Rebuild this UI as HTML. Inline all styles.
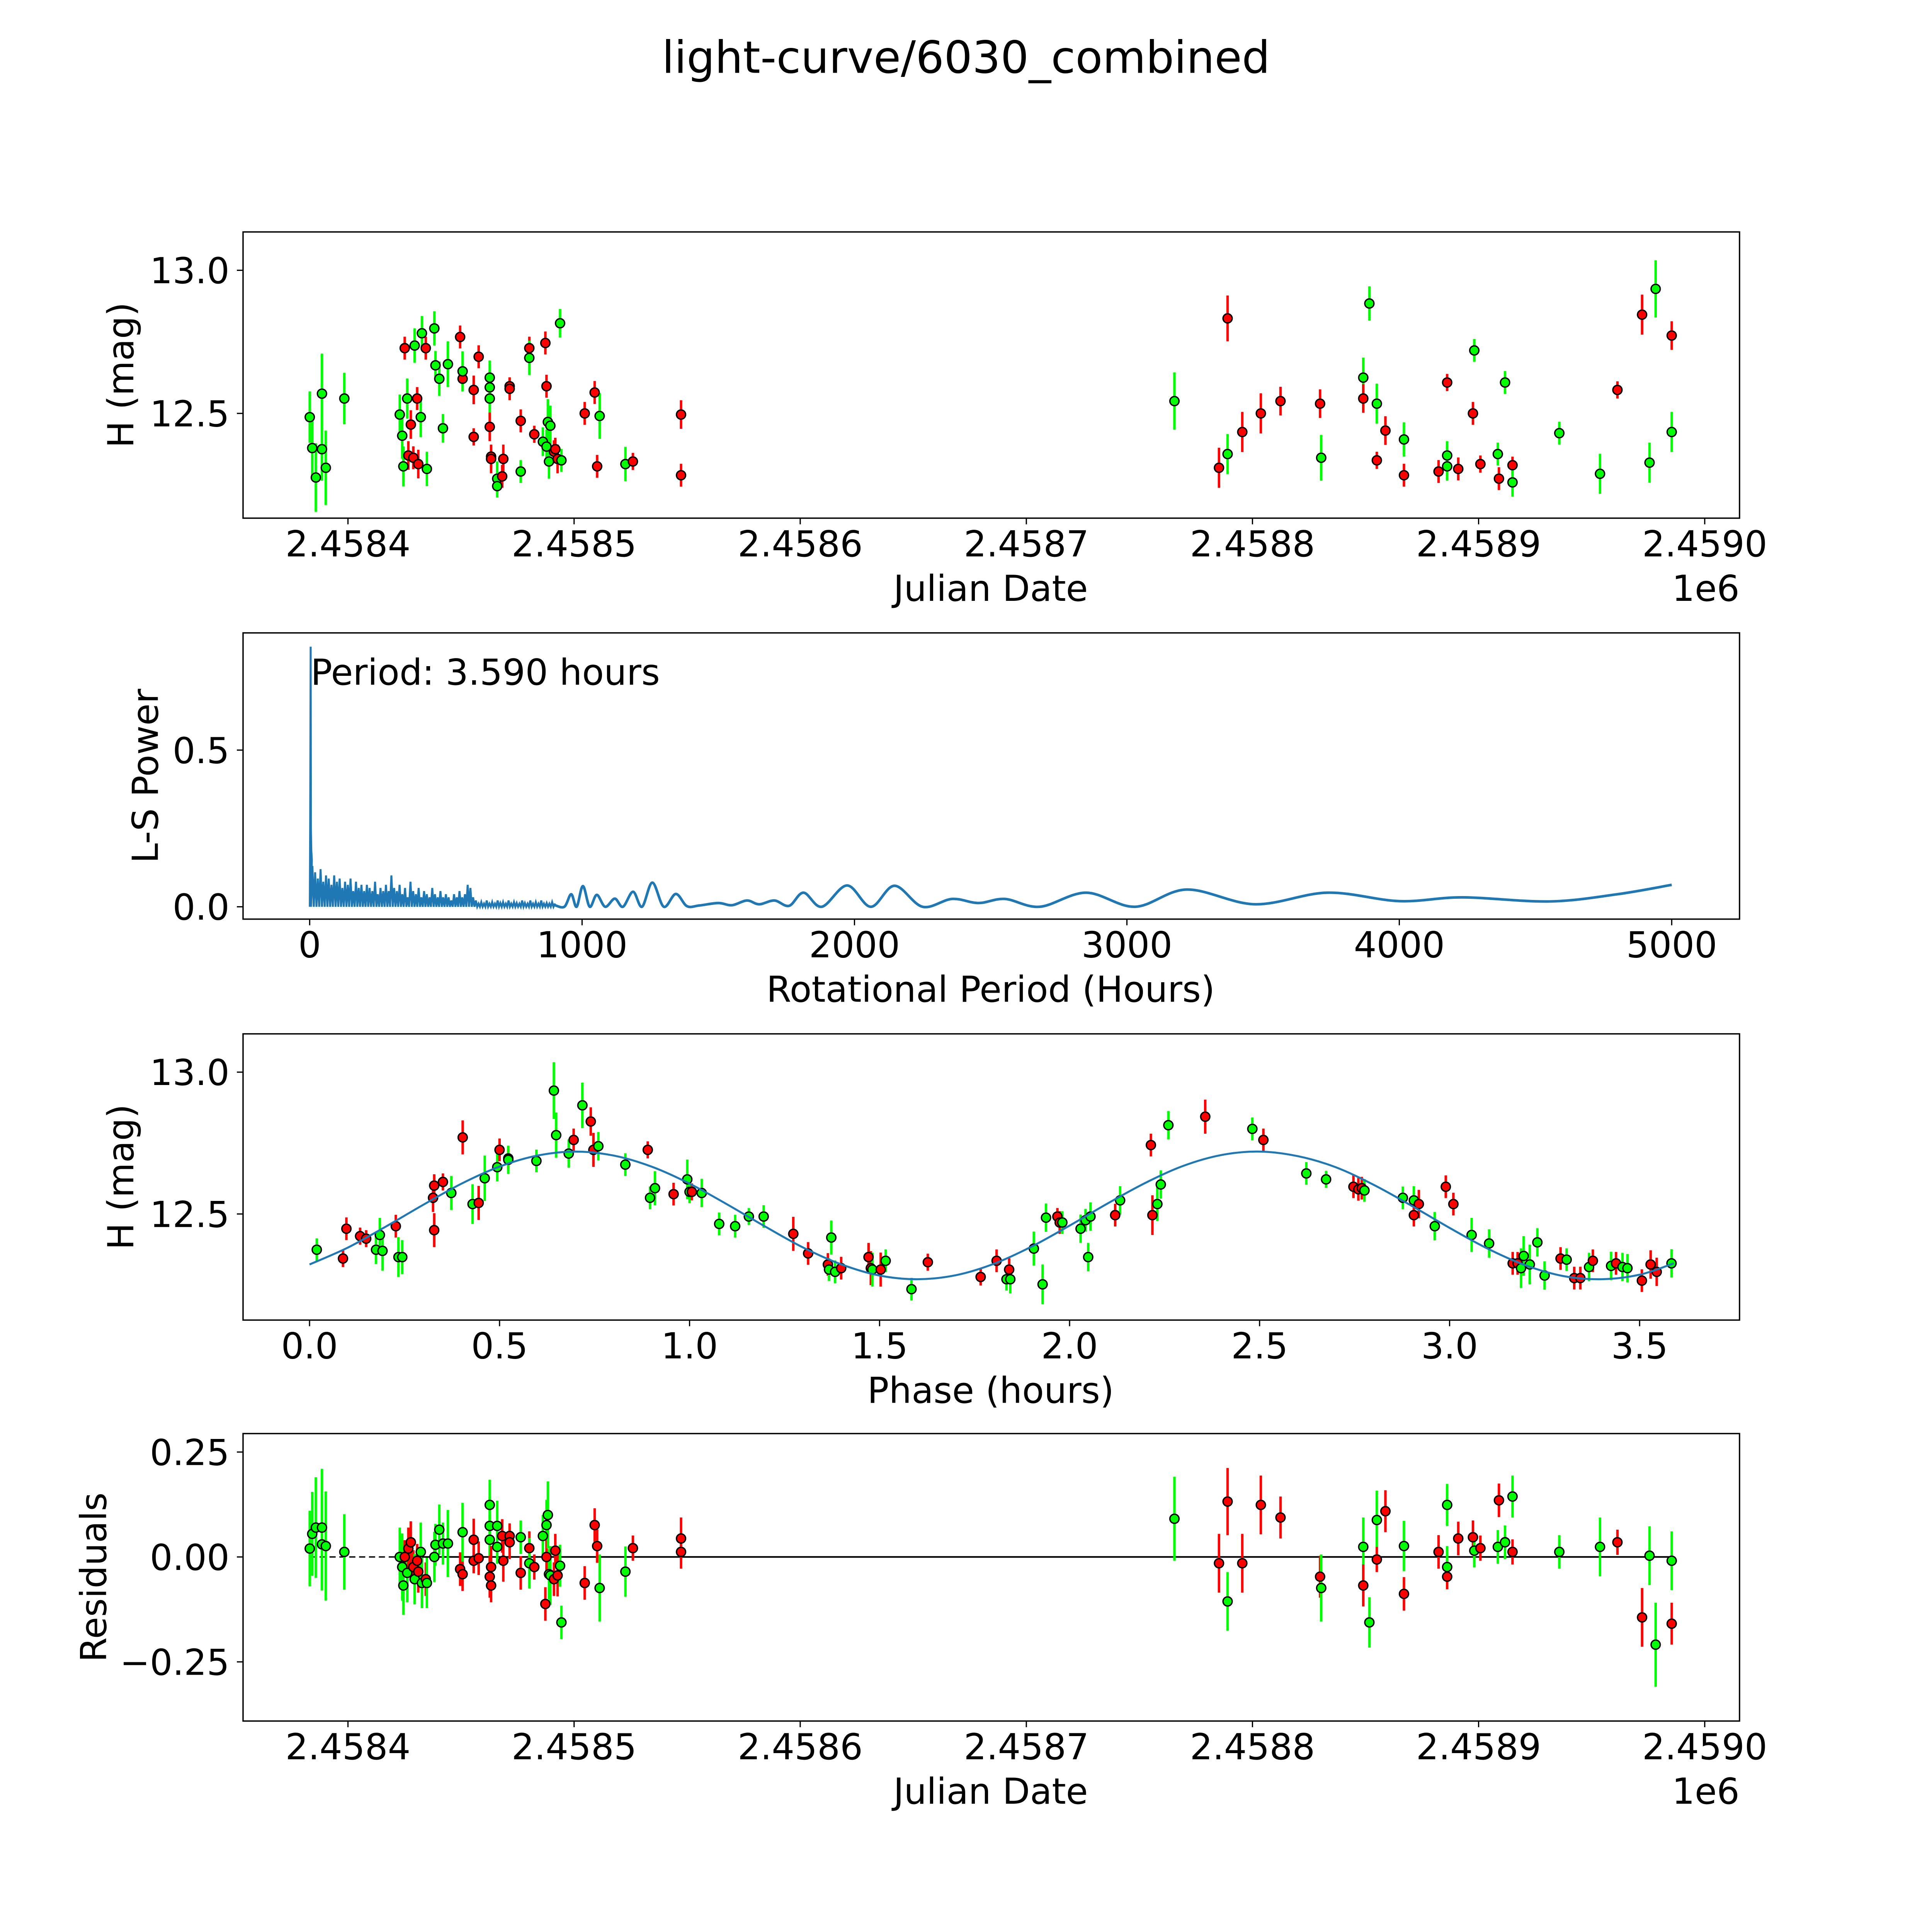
<!DOCTYPE html>
<html><head><meta charset="utf-8"><style>
html,body{margin:0;padding:0;background:#fff;overflow:hidden;width:100%;height:100%;}
svg{display:block;font-family:"DejaVu Sans","Liberation Sans",sans-serif;width:100vw;height:100vh;}
</style></head><body>
<svg id="fig" xmlns="http://www.w3.org/2000/svg" viewBox="0 0 1566 1566" preserveAspectRatio="xMidYMid meet">
<rect x="0" y="0" width="1566" height="1566" fill="#fff"/>
<text x="783" y="59" font-size="36" text-anchor="middle">light-curve/6030_combined</text>
</svg>
<script>
// ---- data: light curve (days since JD 2458400, mag, err, color r/g) ----
const lcDays = [-16.9,-15.8,-14.2,-11.5,-11.5,-9.8,-1.6,22.9,24.0,24.5,25.1,26.2,26.7,27.8,28.9,29.5,30.6,31.1,32.2,32.7,34.4,34.9,38.2,38.7,40.4,42.0,44.2,49.6,50.7,50.7,55.6,57.8,55.6,62.7,62.7,62.7,62.7,63.3,63.3,66.0,66.0,68.2,68.7,71.5,71.5,76.4,76.4,80.2,80.2,82.4,86.2,87.3,87.8,87.8,88.4,88.9,89.5,91.1,91.7,92.7,94.4,93.8,104.7,109.1,111.3,110.2,122.7,126.0,147.3,147.3,
365.5,385.2,389.0,389.0,395.5,403.7,412.4,429.9,430.4,449.0,449.0,451.7,455.0,455.0,458.8,467.0,467.0,482.3,486.1,486.1,486.1,491.0,497.5,498.1,500.8,508.5,509.0,511.7,515.0,515.0,535.7,553.7,561.4,572.3,575.6,578.3,585.4,585.4];
const lcMag = [12.487,12.379,12.276,12.569,12.375,12.310,12.552,12.496,12.422,12.315,12.728,12.552,12.353,12.461,12.345,12.737,12.552,12.323,12.487,12.780,12.728,12.306,12.797,12.668,12.621,12.448,12.672,12.767,12.621,12.647,12.418,12.698,12.582,12.625,12.591,12.552,12.453,12.349,12.341,12.272,12.246,12.280,12.341,12.595,12.586,12.297,12.474,12.728,12.694,12.427,12.401,12.746,12.384,12.595,12.470,12.332,12.457,12.366,12.375,12.341,12.336,12.815,12.500,12.573,12.491,12.315,12.323,12.332,12.496,12.284,
12.543,12.310,12.832,12.358,12.435,12.500,12.543,12.534,12.345,12.625,12.552,12.884,12.534,12.336,12.440,12.409,12.284,12.297,12.353,12.315,12.608,12.306,12.500,12.720,12.323,12.358,12.272,12.608,12.319,12.259,12.431,12.289,12.582,12.845,12.328,12.935,12.772,12.435];
const lcErr = [0.09,0.10,0.12,0.14,0.11,0.13,0.09,0.07,0.08,0.07,0.04,0.07,0.05,0.05,0.04,0.06,0.04,0.05,0.07,0.06,0.04,0.06,0.06,0.05,0.06,0.05,0.08,0.04,0.04,0.07,0.03,0.04,0.05,0.06,0.06,0.07,0.05,0.04,0.05,0.06,0.04,0.04,0.05,0.03,0.04,0.04,0.04,0.04,0.06,0.03,0.05,0.04,0.06,0.04,0.08,0.06,0.07,0.04,0.04,0.05,0.04,0.05,0.04,0.04,0.08,0.04,0.06,0.03,0.05,0.04,
0.10,0.07,0.08,0.07,0.07,0.07,0.05,0.05,0.08,0.07,0.05,0.06,0.07,0.03,0.05,0.06,0.04,0.04,0.05,0.05,0.03,0.04,0.04,0.04,0.03,0.04,0.04,0.04,0.03,0.05,0.04,0.07,0.03,0.07,0.07,0.10,0.05,0.07];
const lcColor = ['g','g','g','g','g','g','g','g','g','g','r','g','r','r','r','g','r','r','g','g','r','g','g','g','g','g','g','r','r','g','r','r','r','g','g','g','r','r','r','g','g','r','r','r','r','g','r','r','g','r','g','r','g','r','g','g','g','r','r','r','g','g','r','r','g','r','g','r','r','r',
'g','r','r','g','r','r','r','r','g','g','r','g','g','r','r','g','r','r','g','g','r','r','r','g','r','g','r','g','r','g','g','g','r','r','g','g','r','g'];
const lcResid = [0.02,0.055,0.07,0.07,0.03,0.026,0.012,0.0,-0.024,-0.068,0.0,-0.038,0.02,0.035,-0.024,-0.053,-0.009,-0.035,0.012,-0.062,-0.053,-0.062,0.0,0.029,0.065,0.032,0.032,-0.029,-0.041,0.059,-0.009,-0.003,0.041,0.041,0.124,0.074,-0.047,-0.068,-0.024,0.074,0.024,0.05,-0.009,0.05,0.035,0.047,-0.038,0.021,-0.015,-0.024,0.05,-0.112,0.076,0.0,0.1,-0.041,-0.044,-0.053,0.015,-0.044,-0.156,-0.021,-0.062,0.076,-0.074,0.026,-0.035,0.021,0.044,0.012,
0.091,-0.015,0.132,-0.106,-0.015,0.124,0.094,-0.047,-0.074,0.024,-0.068,-0.156,0.088,-0.006,0.109,0.026,-0.088,0.012,0.124,-0.024,-0.047,0.044,0.047,0.015,0.021,0.024,0.135,0.035,0.012,0.144,0.012,0.024,0.035,-0.144,0.003,-0.209,-0.159,-0.009];
// ---- periodogram ----
const pgSpikePeriod = [0.5, 2.0, 3.59, 4.5, 6.0, 8.0];
const pgSpikePower = [0.0, 0.28, 0.83, 0.25, 0.18, 0.15];
const pgNoisePeriod0 = 10, pgNoiseStep = 10;
const pgNoisePower = [0.13,0.11,0.09,0.12,0.08,0.10,0.09,0.07,0.10,0.08,0.09,0.06,0.08,0.07,0.09,0.05,0.08,0.06,0.07,0.05,0.07,0.06,0.05,0.08,0.04,0.06,0.05,0.07,0.05,0.10,0.06,0.05,0.07,0.04,0.06,0.03,0.08,0.05,0.04,0.06,0.03,0.05,0.04,0.03,0.06,0.04,0.03,0.05,0.03,0.04,0.03,0.02,0.04,0.03,0.05,0.03,0.04,0.07,0.06,0.03,
0.02,0.01,0.015,0.01,0.02,0.01,0.015,0.01,0.02,0.012,0.015,0.01,0.02,0.01,0.015,0.012,0.01,0.02,0.012,0.01,0.02,0.01,0.015,0.01,0.02,0.01,0.012,0.01,0.015,0.01];
const pgSmoothPeriod = [900,935,960,980,1003,1028,1054,1085,1120,1150,1187,1220,1258,1300,1344,1385,1430,1500,1550,1605,1650,1706,1760,1813,1880,1973,2060,2147,2250,2358,2455,2552,2680,2850,3030,3220,3470,3736,4000,4231,4550,4800,5000];
const pgSmoothPower = [0.005,0.0,0.04,0.0,0.066,0.0,0.038,0.0,0.026,0.0,0.048,0.0,0.077,0.0,0.041,0.002,0.004,0.012,0.005,0.02,0.008,0.02,0.003,0.045,0.0,0.068,0.0,0.067,0.0,0.025,0.012,0.025,0.0,0.045,0.0,0.055,0.008,0.045,0.018,0.03,0.017,0.04,0.07];
// ---- phased light curve ----
const phPhase = [0.019,0.088,0.097,0.133,0.149,0.175,0.185,0.192,0.227,0.234,0.244,0.325,0.328,0.328,0.351,0.373,0.403,0.429,0.445,0.461,0.494,0.500,0.523,0.523,0.597,0.643,0.649,0.682,0.695,0.718,0.740,0.747,0.760,0.831,0.890,0.896,0.909,0.958,0.994,1.000,1.006,1.032,1.078,1.120,1.156,1.195,1.273,1.312,1.364,1.367,1.373,1.383,1.399,1.471,1.477,1.481,1.503,1.516,1.584,1.627,1.766,1.808,1.841,1.834,1.844,1.906,1.929,1.938,1.968,1.974,1.981,2.029,2.042,2.049,2.055,2.120,2.133,2.218,2.214,2.231,2.240,2.260,2.357,2.481,2.510,2.623,2.675,2.747,2.760,2.769,2.776,2.877,2.906,2.906,2.919,2.961,2.990,3.010,3.058,3.104,3.166,3.179,3.188,3.195,3.211,3.231,3.250,3.292,3.308,3.328,3.344,3.367,3.377,3.425,3.438,3.455,3.468,3.506,3.529,3.545,3.584];
const phMag = [12.374,12.343,12.448,12.422,12.413,12.374,12.426,12.370,12.457,12.348,12.348,12.557,12.443,12.600,12.613,12.574,12.770,12.535,12.539,12.626,12.665,12.726,12.696,12.691,12.687,12.935,12.778,12.713,12.761,12.883,12.826,12.726,12.739,12.674,12.726,12.557,12.591,12.570,12.622,12.578,12.578,12.574,12.465,12.457,12.491,12.491,12.430,12.361,12.322,12.304,12.417,12.296,12.309,12.348,12.309,12.304,12.304,12.335,12.235,12.330,12.278,12.335,12.304,12.270,12.270,12.378,12.252,12.487,12.491,12.470,12.470,12.448,12.478,12.348,12.491,12.496,12.548,12.496,12.743,12.535,12.604,12.813,12.843,12.800,12.761,12.643,12.622,12.596,12.587,12.591,12.583,12.557,12.548,12.496,12.535,12.457,12.596,12.535,12.426,12.396,12.326,12.326,12.309,12.352,12.322,12.400,12.283,12.343,12.339,12.274,12.274,12.313,12.335,12.317,12.326,12.313,12.309,12.265,12.322,12.296,12.326];
const phErr = [0.04,0.03,0.04,0.03,0.03,0.05,0.06,0.07,0.04,0.07,0.06,0.05,0.06,0.04,0.03,0.06,0.06,0.07,0.06,0.08,0.05,0.04,0.04,0.05,0.04,0.10,0.08,0.05,0.04,0.08,0.05,0.06,0.05,0.04,0.03,0.04,0.06,0.04,0.07,0.04,0.03,0.05,0.04,0.04,0.03,0.04,0.06,0.04,0.04,0.04,0.06,0.04,0.04,0.05,0.06,0.06,0.06,0.04,0.04,0.03,0.03,0.04,0.04,0.04,0.05,0.06,0.07,0.05,0.03,0.04,0.04,0.05,0.04,0.05,0.05,0.04,0.05,0.07,0.04,0.06,0.05,0.05,0.06,0.04,0.04,0.04,0.03,0.04,0.04,0.04,0.04,0.04,0.05,0.04,0.05,0.05,0.04,0.04,0.06,0.05,0.04,0.04,0.07,0.07,0.07,0.05,0.05,0.04,0.04,0.04,0.04,0.05,0.04,0.05,0.04,0.05,0.05,0.04,0.05,0.05,0.05];
const phColor = ['g','r','r','r','r','g','g','g','r','g','g','r','r','r','r','g','r','g','r','g','g','r','r','g','g','g','g','g','r','g','r','r','g','g','r','g','g','r','g','g','r','g','g','g','g','g','r','r','r','g','g','g','r','r','r','g','r','g','g','r','r','r','r','g','g','g','g','g','r','r','g','g','g','g','g','r','g','r','r','g','g','g','r','g','r','g','g','r','r','r','g','g','g','r','r','g','r','r','g','g','r','r','g','g','g','g','g','r','g','r','r','g','r','g','r','g','g','r','r','r','g'];
const fitPhase = [0,0.1,0.2,0.3,0.4,0.5,0.6,0.7,0.8,0.9,1.0,1.1,1.2,1.3,1.4,1.5,1.6,1.7,1.8,1.9,2.0,2.1,2.2,2.3,2.4,2.5,2.6,2.7,2.8,2.9,3.0,3.1,3.2,3.3,3.4,3.5,3.59];
const fitMag = [12.322,12.381,12.455,12.533,12.607,12.667,12.706,12.720,12.706,12.667,12.607,12.533,12.455,12.381,12.322,12.283,12.270,12.284,12.324,12.385,12.459,12.537,12.610,12.670,12.708,12.720,12.704,12.665,12.603,12.529,12.451,12.378,12.319,12.281,12.270,12.286,12.326];
// ---- tick labels ----
const jdTicks = [0,100,200,300,400,500,600];
const jdTickLabels = ['2.4584','2.4585','2.4586','2.4587','2.4588','2.4589','2.4590'];
const magTicks = [12.5,13.0];
const magTickLabels = ['12.5','13.0'];
const pgXTicks = [0,1000,2000,3000,4000,5000];
const pgXTickLabels = ['0','1000','2000','3000','4000','5000'];
const pgYTicks = [0,0.5];
const pgYTickLabels = ['0.0','0.5'];
const phXTicks = [0,0.5,1,1.5,2,2.5,3,3.5];
const phXTickLabels = ['0.0','0.5','1.0','1.5','2.0','2.5','3.0','3.5'];
const resYTicks = [-0.25,0,0.25];
const resYTickLabels = ['\u22120.25','0.00','0.25'];

const NS='http://www.w3.org/2000/svg';
const svg=document.getElementById('fig');
function mk(tag,attrs,parent){const e=document.createElementNS(NS,tag);for(const k in attrs)e.setAttribute(k,attrs[k]);(parent||svg).appendChild(e);return e;}
function scale(d0,d1,p0,p1){return v=>p0+(v-d0)/(d1-d0)*(p1-p0);}
const L=197,R=1410;
function makeAxes(name,top,bot,xd,yd){
  const g=mk('g',{});
  
  
  return {g,top,bot,x:scale(xd[0],xd[1],L,R),y:scale(yd[0],yd[1],bot,top)};
}
function frame(ax){
  const r=mk('rect',{x:L,y:ax.top,width:R-L,height:ax.bot-ax.top,fill:'none',stroke:'#000','stroke-width':1.1},ax.g);
  
  
}
function xticks(ax,vals,labels,name){
  const g=mk('g',{},ax.g);
  
  
  vals.forEach((v,i)=>{const px=ax.x(v);
    mk('line',{x1:px,x2:px,y1:ax.bot,y2:ax.bot+5,stroke:'#000','stroke-width':1},g);
    const t=mk('text',{x:px,y:ax.bot+31,'font-size':29,'text-anchor':'middle'},g);
    
    
    t.textContent=labels[i];});
}
function yticks(ax,vals,labels,name){
  const g=mk('g',{},ax.g);
  
  
  vals.forEach((v,i)=>{const py=ax.y(v);
    mk('line',{x1:L-5,x2:L,y1:py,y2:py,stroke:'#000','stroke-width':1},g);
    const t=mk('text',{x:L-11,y:py+10.5,'font-size':29,'text-anchor':'end'},g);
    
    
    t.textContent=labels[i];});
}
function xlabel(ax,txt,name){
  const t=mk('text',{x:803,y:ax.bot+67,'font-size':29,'text-anchor':'middle'},ax.g);
  
  
  t.textContent=txt;
}
function ylabel(ax,txt,name,xc){
  const cy=(ax.top+ax.bot)/2;
  const t=mk('text',{x:xc,y:cy,'font-size':29,'text-anchor':'middle',transform:`rotate(-90 ${xc} ${cy})`},ax.g);
  
  
  t.textContent=txt;
}
function offsetLabel(ax){
  const t=mk('text',{x:R,y:ax.bot+67,'font-size':29,'text-anchor':'end'},ax.g);
  
  
  t.textContent='1e6';
}
const COL={r:'#ff0000',g:'#00ff00'};
function errPoints(ax,xs,ys,es,cs,name){
  const g=mk('g',{},ax.g);
  
  
  xs.forEach((xv,i)=>{const px=ax.x(xv);
    const e=es[i];
    const l=mk('line',{x1:px,x2:px,y1:ax.y(ys[i]-e),y2:ax.y(ys[i]+e),stroke:COL[cs[i]],'stroke-width':2},g);
    
    });
  xs.forEach((xv,i)=>{const px=ax.x(xv),py=ax.y(ys[i]);
    const c=mk('circle',{cx:px,cy:py,r:3.7,fill:COL[cs[i]],stroke:'#000','stroke-width':1.1},g);
    
    });
}
function catmull(pts){
  let d=`M${pts[0][0]},${pts[0][1]}`;
  for(let i=0;i<pts.length-1;i++){
    const p0=pts[Math.max(0,i-1)],p1=pts[i],p2=pts[i+1],p3=pts[Math.min(pts.length-1,i+2)];
    const c1x=p1[0]+(p2[0]-p0[0])/6,c1y=p1[1]+(p2[1]-p0[1])/6;
    const c2x=p2[0]-(p3[0]-p1[0])/6,c2y=p2[1]-(p3[1]-p1[1])/6;
    d+=`C${c1x},${c1y} ${c2x},${c2y} ${p2[0]},${p2[1]}`;
  }
  return d;
}

// Panel 1: light curve
const a1=makeAxes('light-curve-panel',188,420,[-46.4,615.4],[12.134,13.134]);
errPoints(a1,lcDays,lcMag,lcErr,lcColor,'light-curve-points');
frame(a1);
xticks(a1,jdTicks,jdTickLabels,'x-axis-ticks');
yticks(a1,magTicks,magTickLabels,'y-axis-ticks');
xlabel(a1,'Julian Date','x-axis-title');
offsetLabel(a1);
ylabel(a1,'H (mag)','y-axis-title',108);

// Panel 2: periodogram
const a2=makeAxes('periodogram-panel',513,745,[-244.6,5249],[-0.0394,0.874]);
{
  let d='';
  const y0=a2.y(0);
  pgSpikePeriod.forEach((p,i)=>{d+=(i?'L':'M')+a2.x(p)+','+a2.y(pgSpikePower[i]);});
  pgNoisePower.forEach((v,i)=>{const p=pgNoisePeriod0+i*pgNoiseStep;
    d+='L'+a2.x(p-pgNoiseStep/2)+','+y0+'L'+a2.x(p)+','+a2.y(v);});
  const pts=pgSmoothPeriod.map((p,i)=>[a2.x(p),a2.y(pgSmoothPower[i])]);
  const ln=mk('path',{d:d+'L'+pts[0][0]+','+pts[0][1],fill:'none',stroke:'#1f77b4','stroke-width':1.6},a2.g);
  
  
  const sm=mk('path',{d:catmull(pts),fill:'none',stroke:'#1f77b4','stroke-width':2.1},a2.g);
  
  
}
frame(a2);
xticks(a2,pgXTicks,pgXTickLabels,'x-axis-ticks');
yticks(a2,pgYTicks,pgYTickLabels,'y-axis-ticks');
xlabel(a2,'Rotational Period (Hours)','x-axis-title');
ylabel(a2,'L-S Power','y-axis-title',128);
{const t=mk('text',{x:a2.x(3.59),y:555,'font-size':29},a2.g);


t.textContent='Period: 3.590 hours';}

// Panel 3: phased
const a3=makeAxes('phased-panel',838,1070,[-0.175,3.763],[12.126,13.135]);
errPoints(a3,phPhase,phMag,phErr,phColor,'phased-points');
{const pts=fitPhase.map((p,i)=>[a3.x(p),a3.y(fitMag[i])]);
const f=mk('path',{d:catmull(pts),fill:'none',stroke:'#1f77b4','stroke-width':1.6},a3.g);

}
frame(a3);
xticks(a3,phXTicks,phXTickLabels,'x-axis-ticks');
yticks(a3,magTicks,magTickLabels,'y-axis-ticks');
xlabel(a3,'Phase (hours)','x-axis-title');
ylabel(a3,'H (mag)','y-axis-title',108);

// Panel 4: residuals
const a4=makeAxes('residuals-panel',1162,1395,[-46.4,615.4],[-0.391,0.294]);
{const z=a4.y(0);
const d1=mk('line',{x1:a4.x(lcDays[0]),x2:a4.x(25),y1:z,y2:z,stroke:'#000','stroke-width':1.1,'stroke-dasharray':'5,3'},a4.g);


const d2=mk('line',{x1:a4.x(25),x2:a4.x(lcDays[lcDays.length-1]),y1:z,y2:z,stroke:'#000','stroke-width':1.3},a4.g);

}
errPoints(a4,lcDays,lcResid,lcErr,lcColor,'residual-points');
frame(a4);
xticks(a4,jdTicks,jdTickLabels,'x-axis-ticks');
yticks(a4,resYTicks,resYTickLabels,'y-axis-ticks');
xlabel(a4,'Julian Date','x-axis-title');
offsetLabel(a4);
ylabel(a4,'Residuals','y-axis-title',86);
</script>
</body></html>
